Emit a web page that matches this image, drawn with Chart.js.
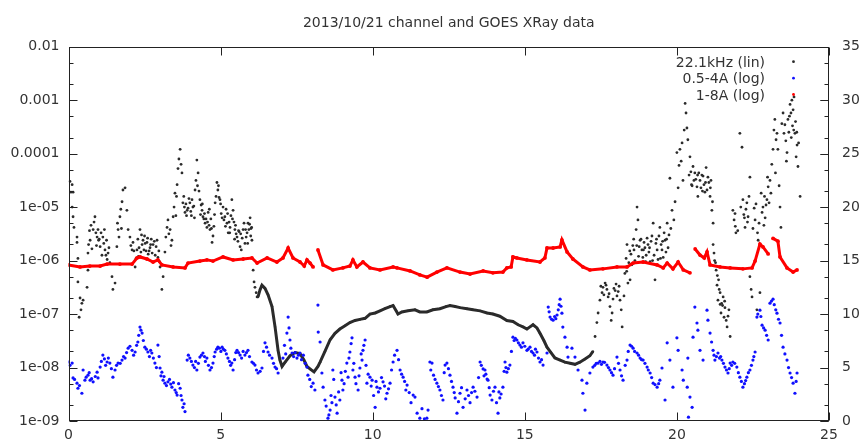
<!DOCTYPE html>
<html><head><meta charset="utf-8">
<script src="https://cdn.jsdelivr.net/npm/chart.js@4/dist/chart.umd.min.js"></script>
<style>html,body{margin:0;padding:0;background:#fff;overflow:hidden}canvas{display:block}</style>
</head><body>
<canvas id="c" width="862" height="444"></canvas>
<script>
const titleText = '2013/10/21 channel and GOES XRay data';
const seriesLabels = ['22.1kHz (lin)', '0.5-4A (log)', '1-8A (log)'];
const xTickValues = [0, 5, 10, 15, 20, 25];
const leftTickValues = [1e-9, 1e-8, 1e-7, 1e-6, 1e-5, 1e-4, 1e-3, 1e-2];
const leftTickLabels = ['1e-09', '1e-08', '1e-07', '1e-06', '1e-05', '0.0001', '0.001', '0.01'];
const leftMinorTickValues = [2e-9, 5e-9, 2e-8, 5e-8, 2e-7, 5e-7, 2e-6, 5e-6, 2e-5, 5e-5, 2e-4, 5e-4, 2e-3, 5e-3];
const rightTickValues = [0, 5, 10, 15, 20, 25, 30, 35];

// 22.1 kHz channel (right axis, linear) - scattered readings
const khzHours = [0.05,0.08,0.12,0.12,0.15,0.15,0.18,0.28,0.28,0.31,0.31,0.35,0.38,0.41,0.44,0.48,0.61,0.64,0.64,0.71,0.81,0.87,0.90,0.94,0.97,0.99,1.04,1.07,1.10,1.13,1.20,1.23,1.27,1.30,1.33,1.36,1.43,1.46,1.53,1.59,1.63,1.69,1.76,1.79,1.86,1.92,1.96,2.02,2.09,2.12,2.19,2.25,2.28,2.32,2.35,2.38,2.42,2.45,2.50,2.55,2.58,2.62,2.68,2.72,2.78,2.85,2.88,2.91,2.94,3.01,3.07,3.11,3.17,3.24,3.27,3.30,3.34,3.37,3.40,3.44,3.50,3.57,3.60,3.63,3.67,3.70,3.73,3.76,3.79,3.83,3.86,3.90,3.93,3.99,4.02,4.06,4.09,4.12,4.16,4.19,4.22,4.26,4.29,4.32,4.36,4.39,4.42,4.45,4.49,4.52,4.55,4.59,4.62,4.65,4.68,4.72,4.75,4.82,4.85,4.88,4.91,4.95,4.98,5.02,5.08,5.11,5.14,5.18,5.21,5.25,5.28,5.31,5.34,5.37,5.41,5.44,5.47,5.51,5.54,5.57,5.61,5.64,5.68,5.71,5.74,5.80,5.84,5.87,5.90,5.93,5.97,6.00,6.03,6.07,6.10,6.13,6.17,6.20,
0.66,0.69,0.74,0.77,0.84,0.92,1.01,1.16,1.18,1.25,1.61,1.66,1.72,1.74,2.05,2.15,2.22,2.30,2.40,2.48,2.52,2.60,2.65,2.70,2.75,2.82,2.97,2.99,3.20,3.47,3.53,3.55,3.81,3.88,3.96,4.04,4.14,4.24,4.34,4.40,4.47,4.57,4.63,4.70,4.78,4.80,4.93,5.00,5.05,5.16,5.23,5.30,5.39,5.46,5.49,5.59,5.66,5.77,5.82,5.89,5.95,5.99,6.02,
17.31,17.37,17.41,17.47,17.54,17.57,17.64,17.70,17.74,17.80,17.84,17.87,17.93,18.00,18.07,18.13,18.17,18.20,18.26,18.29,18.33,18.36,18.39,18.46,18.52,18.59,18.66,18.69,18.72,18.79,18.85,18.92,18.99,19.05,19.12,19.18,19.22,19.28,19.35,19.44,19.48,19.55,19.61,19.68,19.74,19.77,19.84,19.90,20.00,20.07,20.10,20.17,20.27,20.30,20.33,20.36,20.43,20.46,20.53,20.56,20.59,20.66,20.69,20.76,20.82,20.89,20.96,20.99,21.05,21.09,21.12,21.15,21.19,21.19,21.22,21.29,21.32,21.35,21.39,21.42,21.45,21.52,21.55,21.62,21.65,21.71,21.75,21.84,21.88,21.94,22.07,22.14,22.17,22.20,22.24,22.30,22.34,22.40,22.40,22.44,22.47,22.54,22.57,22.63,22.67,22.73,22.80,22.86,22.93,22.96,23.00,23.06,23.09,23.16,23.19,23.22,23.26,23.29,23.32,23.39,23.42,23.49,23.52,23.55,23.62,23.65,23.72,23.75,23.78,23.82,23.85,23.88,23.92,23.95,23.98,24.05,
17.50,17.60,17.67,17.77,17.90,17.97,18.03,18.10,18.42,18.49,18.55,18.62,18.76,18.82,18.88,18.95,19.02,19.08,19.15,19.25,19.31,19.38,19.41,19.51,19.58,19.64,19.71,20.40,20.50,20.62,20.72,20.79,20.86,20.92,21.02,21.27,21.37,21.47,21.58,21.68,21.91,22.10,22.27,22.37,22.60,22.70,22.77,22.83,22.90,23.03,23.45,23.58,23.68,23.70,23.80,23.90,24.00,
18.35,18.45,18.58,18.68,18.74,18.90,18.97,19.10,19.20,19.33,19.46,19.53,19.66,19.80,19.94,20.04,20.14,20.20,20.24,20.48,20.68,20.84,20.94,21.10,21.17,21.24,21.33,21.42,21.50,21.57,21.92,22.00,22.22,22.32,22.50,22.65,22.88,22.98,23.12,23.24,23.36,23.60,23.76,23.84,23.94];
const khzValues = [22.4,21.4,22.1,20.0,21.4,19.1,18.1,17.2,16.7,15.2,13.0,9.7,11.5,10.4,11.0,11.3,12.5,14.1,15.7,16.9,17.9,19.1,17.6,17.2,17.9,16.9,16.3,17.6,15.5,17.2,16.0,15.5,15.1,15.7,16.2,14.8,13.5,12.3,12.9,16.3,17.9,19.1,20.5,21.6,21.8,19.7,17.9,17.2,16.0,16.7,14.4,16.0,17.0,16.2,17.9,15.8,16.5,16.9,17.3,15.9,16.7,15.6,16.2,17.0,16.5,15.5,16.3,16.9,15.3,14.4,12.3,13.5,15.8,18.1,18.8,17.5,17.9,16.4,16.9,19.1,21.3,22.1,23.6,24.5,25.4,24.0,23.2,20.4,21.0,19.5,20.3,19.7,19.9,20.4,19.6,20.7,20.0,20.1,21.6,22.5,24.4,23.2,21.5,20.7,20.2,19.7,19.1,18.9,18.5,18.9,18.1,19.5,18.3,17.9,18.9,16.7,17.3,20.4,21.0,22.3,21.6,20.9,20.7,19.4,20.0,18.8,19.1,19.8,18.5,17.6,18.6,18.1,19.2,20.7,19.7,18.6,17.9,17.5,17.2,16.8,17.7,16.3,16.0,17.1,17.9,16.6,17.2,17.6,18.5,17.9,19.0,18.0,16.9,14.1,13.0,12.5,12.0,11.6,
16.5,17.8,18.3,16.1,18.6,16.4,17.0,16.6,17.9,16.9,18.5,17.2,19.8,18.0,16.4,15.9,15.2,15.4,17.4,16.0,16.6,17.1,15.9,16.5,15.7,16.8,15.9,14.9,17.2,20.0,19.2,21.0,20.0,19.2,20.8,19.2,19.0,22.0,19.3,20.3,19.4,18.6,19.8,18.0,18.2,19.3,22.0,20.3,19.0,18.2,19.4,17.6,18.9,17.0,18.3,17.8,17.5,18.5,17.9,16.6,18.4,17.3,18.1,
7.9,9.2,10.1,11.3,12.0,12.5,12.9,12.3,11.6,10.7,9.4,10.1,12.4,12.8,12.1,11.3,10.4,8.8,11.7,13.8,15.2,16.5,12.9,13.2,14.6,16.0,17.9,20.0,18.8,16.9,16.0,16.7,15.5,16.5,14.9,17.3,18.5,13.2,16.0,18.1,16.5,15.3,16.9,18.5,17.4,22.7,19.7,18.8,25.1,23.9,25.4,26.0,29.7,28.8,27.4,26.3,24.7,23.3,23.8,22.5,23.2,21.9,21.0,22.5,23.0,22.1,23.7,21.6,22.3,21.0,22.5,19.7,18.5,16.5,15.7,14.1,12.7,11.3,12.3,10.9,10.1,11.6,9.7,9.4,8.8,10.4,7.9,19.7,18.8,17.6,26.9,25.6,20.7,19.3,18.1,20.4,19.1,22.8,13.5,12.3,11.6,19.9,18.8,10.4,16.9,12.0,19.5,18.3,20.2,20.7,21.9,22.5,21.3,25.4,27.2,28.2,26.3,26.9,25.4,20.0,18.1,28.8,26.9,27.7,25.1,28.2,29.6,28.8,30.0,29.1,30.3,26.9,24.7,25.8,23.8,21.0,
12.6,11.8,12.7,11.9,11.4,12.2,11.7,12.6,14.8,15.6,16.4,15.0,16.3,17.0,15.3,16.2,17.1,15.8,16.8,15.5,16.6,15.1,17.3,16.0,17.6,15.8,16.2,23.0,22.0,22.6,23.2,21.8,22.9,21.4,22.8,14.8,13.2,11.0,10.6,9.8,19.4,20.0,19.8,21.0,20.3,18.5,21.3,20.0,19.0,20.4,27.8,26.2,27.0,28.5,27.6,28.0,26.0,
14.0,15.9,17.0,16.4,15.4,16.0,14.9,16.2,15.0,17.0,15.2,16.8,17.0,18.0,20.5,21.8,24.3,22.5,27.2,22.1,23.0,21.5,22.3,21.8,20.5,15.0,13.6,12.0,10.8,11.2,18.2,17.8,19.0,18.6,18.0,17.6,21.0,22.8,24.0,23.2,22.0,24.3,26.5,27.2,27.0];

// 22.1 kHz channel - smooth night-time section
const khzCurveHours = [6.23,6.30,6.36,6.46,6.56,6.69,6.79,6.89,6.95,7.02,7.12,7.28,7.45,7.61,7.74,7.84,7.97,8.07,8.20,8.27,8.43,8.60,8.76,8.92,9.09,9.25,9.42,9.58,9.75,9.91,10.08,10.24,10.40,10.57,10.67,10.77,10.83,10.96,11.16,11.39,11.55,11.78,11.98,12.21,12.41,12.54,12.71,12.87,13.10,13.30,13.53,13.76,13.95,14.18,14.41,14.61,14.78,14.94,15.07,15.17,15.27,15.40,15.50,15.63,15.73,15.86,15.99,16.16,16.32,16.49,16.65,16.81,16.98,17.14,17.24];
const khzCurveValues = [11.6,12.3,12.7,12.4,11.8,10.7,8.8,6.6,5.7,5.1,5.5,6.1,6.4,6.3,5.7,5.1,4.8,4.6,5.1,5.5,6.5,7.6,8.2,8.6,8.9,9.2,9.4,9.5,9.6,10.0,10.1,10.3,10.5,10.7,10.8,10.3,10.0,10.2,10.3,10.4,10.2,10.2,10.4,10.5,10.7,10.8,10.7,10.6,10.5,10.4,10.3,10.1,10.0,9.8,9.4,9.3,9.0,8.8,8.6,8.8,9.0,8.7,8.2,7.5,6.9,6.4,5.9,5.7,5.5,5.4,5.3,5.5,5.8,6.1,6.5];

// GOES 0.5-4 A flux (left axis, log)
const hardHours = [0.00,0.12,0.15,0.28,0.31,0.44,0.48,0.54,0.64,0.71,0.81,0.94,0.97,1.04,1.13,1.27,1.36,1.46,1.53,1.63,1.76,1.86,1.96,2.09,2.19,2.28,2.35,2.42,2.51,2.61,2.74,2.84,2.94,3.01,3.07,3.11,3.17,3.27,3.40,3.50,3.57,3.67,3.73,3.76,3.83,3.90,3.99,4.09,4.22,4.32,4.42,4.55,4.65,4.75,4.82,4.91,5.05,5.14,5.24,5.37,5.41,5.54,5.64,5.80,5.90,6.03,6.13,6.23,6.36,6.46,6.56,6.69,6.79,6.89,7.05,7.18,7.22,7.28,7.35,7.51,7.61,7.84,7.87,8.04,8.10,8.20,8.21,8.27,8.33,8.37,8.43,8.53,8.60,8.66,8.69,8.76,8.83,8.92,8.99,9.02,9.15,9.19,9.25,9.32,9.35,9.42,9.52,9.58,9.65,9.68,9.75,9.81,9.91,9.98,10.08,10.14,10.24,10.34,10.47,10.57,10.67,10.80,10.90,11.00,11.13,11.33,11.39,11.46,11.55,11.62,11.78,11.88,11.95,12.00,12.11,12.21,12.31,12.38,12.44,12.54,12.64,12.71,12.77,12.87,12.97,13.10,13.20,13.30,13.43,13.53,13.63,13.69,13.76,13.79,13.86,13.92,14.02,14.12,14.18,14.28,14.35,14.41,14.51,14.61,14.74,14.84,14.94,15.07,15.17,15.27,15.40,15.50,15.60,15.73,15.77,15.83,15.93,16.06,16.16,16.22,16.25,16.32,16.39,16.42,16.55,16.65,16.75,16.88,16.91,16.98,17.04,17.14,17.24,17.41,17.57,17.70,17.80,17.90,18.03,18.13,18.23,18.36,18.46,18.56,18.69,18.79,18.89,19.02,19.12,19.22,19.35,19.44,19.51,19.61,19.68,19.77,19.87,20.00,20.04,20.17,20.21,20.34,20.36,20.38,20.43,20.50,20.53,20.59,20.66,20.69,20.76,20.86,20.99,21.02,21.09,21.19,21.25,21.35,21.48,21.58,21.68,21.75,21.84,21.97,22.07,22.17,22.30,22.40,22.50,22.57,22.63,22.73,22.80,22.90,23.00,23.06,23.16,23.29,23.39,23.49,23.62,23.72,23.82,23.88,23.95,
0.05,0.20,0.36,0.58,0.68,0.76,0.88,1.08,1.18,1.22,1.31,1.41,1.58,1.70,1.81,1.91,2.02,2.14,2.24,2.31,2.38,2.46,2.56,2.66,2.70,2.79,2.89,2.98,3.04,3.14,3.22,3.32,3.36,3.45,3.54,3.62,3.70,3.80,
3.94,4.04,4.14,4.18,4.27,4.37,4.47,4.50,4.60,4.70,4.79,4.87,4.96,5.01,5.09,5.19,5.29,5.33,5.46,5.50,5.59,5.69,5.74,5.85,5.95,6.08,6.18,6.30,6.41,6.51,6.61,6.74,6.84,
7.10,7.14,7.25,7.31,7.40,7.45,7.56,7.66,7.72,7.78,7.93,7.98,
8.47,8.56,8.63,8.72,8.80,8.88,8.96,9.06,9.10,9.22,9.29,9.38,9.45,9.55,9.62,9.71,9.78,9.85,9.95,10.03,10.11,10.19,10.29,10.39,10.43,10.52,10.62,10.72,10.85,10.95,11.05,11.09,11.20,11.26,11.70,11.82,11.91,12.05,12.16,12.26,12.35,12.49,12.59,12.68,12.82,12.92,13.04,13.15,13.25,13.36,13.48,13.57,13.66,13.72,13.83,13.97,14.07,14.15,14.22,14.32,14.38,14.46,14.56,
14.65,14.69,14.79,14.89,15.00,15.11,15.22,15.32,15.35,15.45,15.55,15.80,15.88,15.98,16.02,16.10,16.13,16.19,
17.30,17.35,17.47,17.52,17.62,17.75,17.85,17.95,18.08,18.18,18.30,18.40,18.51,18.61,18.74,18.84,18.95,19.06,19.17,19.28,19.40,
21.14,21.22,21.30,21.40,21.44,21.53,21.63,21.72,21.80,21.90,22.02,22.12,22.22,22.26,22.35,22.45,22.53,
22.66,22.76,22.85,22.95,23.11,23.20,23.25,23.34,23.44,23.55,23.67,23.77,23.92];
const hardFlux = [1.27e-8,1.21e-8,6.4e-9,5.1e-9,4.1e-9,3.3e-9,9.0e-9,5.8e-9,7.2e-9,5.8e-9,5.4e-9,8.2e-9,6.4e-9,1.02e-8,1.71e-8,1.27e-8,1.21e-8,6.6e-9,9.0e-9,1.21e-8,1.38e-8,1.5e-8,2.3e-8,2.1e-8,1.95e-8,3.0e-8,5.7e-8,4.4e-8,2.4e-8,1.95e-8,1.87e-8,1.21e-8,2.63e-8,9.8e-9,8.2e-9,5.8e-9,5.1e-9,5.4e-9,4.3e-9,3.8e-9,3.06e-9,4.1e-9,2.47e-9,1.8e-9,1.5e-9,1.38e-8,1.5e-8,1.11e-8,9.0e-9,1.57e-8,1.87e-8,1.5e-8,9.0e-9,1.21e-8,1.95e-8,2.4e-8,2.4e-8,2.1e-8,1.5e-8,1.21e-8,9.0e-9,2.1e-8,1.71e-8,1.71e-8,2.1e-8,1.27e-8,1.11e-8,7.9e-9,9.8e-9,2.9e-8,1.95e-8,1.5e-8,1.02e-8,7.9e-9,1.5e-8,4.4e-8,8.8e-8,3.27e-8,1.87e-8,1.5e-8,1.87e-8,1.02e-8,7.2e-9,5.1e-9,3.8e-9,1.47e-7,4.6e-8,3.0e-8,7.9e-9,4.3e-9,2.47e-9,1.13e-9,1.6e-9,2.2e-9,9.0e-9,2.8e-9,1.4e-9,2.47e-9,5.8e-9,3.8e-9,1.21e-8,6.6e-9,1.95e-8,3.6e-8,9.0e-9,6.6e-9,3.8e-9,9.8e-9,1.38e-8,2.1e-8,3.27e-8,5.1e-9,6.6e-9,5.8e-9,1.8e-9,4.3e-9,4.1e-9,5.4e-9,3.3e-9,5.1e-9,1.27e-8,2.1e-8,9.0e-9,6.6e-9,4.7e-9,3.06e-9,2.8e-9,1.4e-9,1.13e-9,1.7e-9,1.13e-9,1.27e-8,1.21e-8,7.2e-9,5.1e-9,3.8e-9,2.47e-9,1.11e-8,1.21e-8,7.2e-9,4.3e-9,2.7e-9,1.4e-9,3.3e-9,1.8e-9,3.8e-9,2.2e-9,4.3e-9,2.8e-9,1.27e-8,9.4e-9,9.0e-9,6.1e-9,5.8e-9,3.06e-9,2.47e-9,4.3e-9,1.4e-9,2.7e-9,4.3e-9,1.27e-8,8.2e-9,1.11e-8,3.7e-8,3.27e-8,2.63e-8,2.9e-8,2.1e-8,2.4e-8,1.87e-8,1.95e-8,1.27e-8,1.11e-8,1.87e-8,1.35e-7,8.8e-8,7.7e-8,9.6e-8,1.9e-7,1.04e-7,5.7e-8,3.7e-8,2.4e-8,1.57e-8,2.3e-8,1.57e-8,9.0e-9,5.8e-9,3.3e-9,1.6e-9,5.1e-9,7.9e-9,1.02e-8,1.21e-8,1.27e-8,1.11e-8,9.0e-9,7.2e-9,1.57e-8,9.0e-9,5.8e-9,1.38e-8,2.63e-8,2.3e-8,1.87e-8,1.5e-8,1.38e-8,1.02e-8,7.9e-9,5.1e-9,4.3e-9,5.8e-9,9.8e-9,2.47e-9,2.9e-8,1.38e-8,4.3e-9,3.6e-8,2.1e-8,9.0e-9,5.8e-9,4.3e-9,1.5e-8,1.18e-9,2.8e-9,1.8e-9,3.7e-8,1.35e-7,6.8e-8,5.0e-8,2.1e-8,1.38e-8,1.18e-7,7.7e-8,4.4e-8,2.1e-8,1.38e-8,1.87e-8,1.38e-8,1.02e-8,7.9e-9,1.21e-8,1.27e-8,1.02e-8,6.6e-9,4.3e-9,6.6e-9,9.0e-9,1.38e-8,1.95e-8,8.8e-8,1.18e-7,6.2e-8,5.0e-8,3.27e-8,1.6e-7,1.9e-7,1.04e-7,6.8e-8,2.4e-8,1.38e-8,7.9e-9,5.1e-9,3.3e-9,7.9e-9,
1.1e-8,6.0e-9,4.6e-9,6.6e-9,8.0e-9,6.2e-9,6.8e-9,1.3e-8,1.45e-8,1.1e-8,1.5e-8,9.5e-9,1.1e-8,1.2e-8,1.6e-8,1.9e-8,2.5e-8,1.7e-8,2.6e-8,4.0e-8,5.0e-8,3.2e-8,2.2e-8,1.6e-8,2.1e-8,1.5e-8,1.0e-8,1.6e-8,7.0e-9,6.8e-9,4.6e-9,6.0e-9,4.9e-9,5.2e-9,3.4e-9,5.0e-9,3.0e-9,2.1e-9,
1.7e-8,1.3e-8,1.0e-8,1.3e-8,1.2e-8,1.7e-8,1.6e-8,1.3e-8,1.1e-8,1.0e-8,1.6e-8,2.2e-8,2.3e-8,2.0e-8,2.2e-8,1.8e-8,1.3e-8,1.1e-8,1.4e-8,1.9e-8,1.9e-8,1.5e-8,2.0e-8,1.9e-8,1.6e-8,1.2e-8,9.0e-9,8.5e-9,2.0e-8,2.4e-8,1.7e-8,1.2e-8,9.5e-9,
2.6e-8,1.8e-8,5.5e-8,2.3e-8,1.6e-8,1.9e-8,1.7e-8,1.4e-8,1.7e-8,1.2e-8,6.0e-9,4.4e-9,
1.9e-9,1.3e-9,3.0e-9,6.0e-9,2.0e-9,3.5e-9,8.0e-9,5.0e-9,8.5e-9,1.5e-8,2.8e-8,1.2e-8,5.0e-9,7.0e-9,1.8e-8,2.6e-8,1.1e-8,7.5e-9,4.5e-9,3.0e-9,5.5e-9,3.5e-9,6.5e-9,4.5e-9,2.6e-9,4.0e-9,9.0e-9,1.7e-8,1.4e-8,7.5e-9,5.5e-9,3.8e-9,3.4e-9,2.2e-9,1.1e-9,1.6e-9,9.0e-9,6.0e-9,4.4e-9,3.0e-9,8.0e-9,9.5e-9,5.5e-9,3.4e-9,2.3e-9,4.2e-9,2.6e-9,3.0e-9,3.4e-9,3.6e-9,6.5e-9,1.1e-8,7.0e-9,7.5e-9,4.2e-9,3.6e-9,2.2e-9,3.5e-9,3.2e-9,8.5e-9,1.0e-8,9.5e-9,2.0e-8,
3.2e-8,3.5e-8,2.9e-8,2.4e-8,2.5e-8,2.2e-8,2.0e-8,1.7e-8,2.2e-8,1.5e-8,1.4e-8,1.1e-7,8.0e-8,9.0e-8,8.2e-8,1.2e-7,1.5e-7,1.4e-7,
1.1e-8,1.2e-8,1.3e-8,1.15e-8,1.25e-8,1.0e-8,8.0e-9,9.5e-9,1.2e-8,7.0e-9,1.1e-8,2.0e-8,2.5e-8,2.0e-8,1.7e-8,1.4e-8,1.2e-8,9.0e-9,6.5e-9,4.8e-9,5.0e-9,
3.0e-8,1.7e-8,1.6e-8,1.5e-8,1.6e-8,1.2e-8,9.0e-9,9.5e-9,1.1e-8,1.2e-8,8.0e-9,5.5e-9,5.0e-9,5.7e-9,8.0e-9,1.1e-8,1.6e-8,
1.0e-7,9.0e-8,5.5e-8,4.0e-8,1.75e-7,1.5e-7,1.2e-7,8.0e-8,4.0e-8,1.8e-8,1.0e-8,6.5e-9,5.5e-9];

// GOES 1-8 A flux (left axis, log); null = data gap
const softHours = [0.00,0.38,0.70,1.04,1.27,1.69,2.09,2.25,2.35,2.58,2.78,2.94,3.07,3.44,3.83,3.93,4.32,4.55,4.75,5.08,5.41,5.74,6.03,6.20,6.53,6.85,7.05,7.22,7.38,7.61,7.75,7.84,7.94,8.04,8.12,8.20,8.37,8.69,9.02,9.25,9.35,9.48,9.68,9.91,10.24,10.67,10.80,11.23,11.55,11.79,12.11,12.44,12.87,13.20,13.63,13.95,14.28,14.41,14.55,14.61,14.74,15.07,15.50,15.66,15.73,15.93,16.16,16.22,16.39,16.58,16.91,17.14,17.57,18.03,18.36,18.56,18.89,19.35,19.55,19.68,19.87,20.04,20.21,20.43,20.52,20.60,20.76,20.90,20.99,21.09,21.42,21.75,22.17,22.47,22.57,22.73,22.83,23.00,23.08,23.16,23.32,23.39,23.62,23.82,23.95];
const softFlux = [8.3e-7,7.6e-7,7.9e-7,7.9e-7,8.6e-7,8.6e-7,8.6e-7,1.12e-6,1.17e-6,1.07e-6,9.4e-7,1.03e-6,8.3e-7,7.6e-7,7.3e-7,9.0e-7,9.8e-7,1.03e-6,9.8e-7,1.17e-6,1.03e-6,1.07e-6,1.12e-6,9.0e-7,1.12e-6,9.4e-7,1.12e-6,1.72e-6,1.12e-6,9.4e-7,7.9e-7,1.03e-6,9.0e-7,7.6e-7,null,1.58e-6,8.3e-7,6.7e-7,7.3e-7,7.9e-7,1.03e-6,7.6e-7,9.4e-7,7.3e-7,6.7e-7,7.6e-7,7.3e-7,6.4e-7,5.4e-7,4.9e-7,6.1e-7,7.3e-7,6.1e-7,5.6e-7,6.4e-7,5.9e-7,6.1e-7,7.3e-7,7.6e-7,1.17e-6,1.12e-6,1.03e-6,9.4e-7,1.12e-6,1.72e-6,1.72e-6,1.80e-6,2.43e-6,1.45e-6,1.07e-6,7.6e-7,6.7e-7,7.0e-7,7.6e-7,7.6e-7,9.0e-7,9.4e-7,8.3e-7,7.3e-7,9.0e-7,7.0e-7,9.4e-7,6.7e-7,5.9e-7,null,1.65e-6,1.27e-6,1.12e-6,1.45e-6,8.3e-7,7.6e-7,7.3e-7,7.0e-7,7.3e-7,9.8e-7,2.04e-6,1.80e-6,1.33e-6,null,2.6e-6,2.3e-6,1.17e-6,7.3e-7,6.1e-7,6.7e-7];

const pts = (xs, ys) => xs.map((x, i) => ({x: x, y: ys[i]}));
const FONT = '"DejaVu Sans", sans-serif';
const TXT = '#333';
const markerColors = ['#2b2b2b', '#1010ff', '#ff0000'];

const framePlugin = {
  id: 'frame',
  afterDatasetsDraw(chart) {
    const {ctx, chartArea: a, scales} = chart;
    ctx.save();
    ctx.strokeStyle = '#222';
    ctx.lineWidth = 1;
    const L = Math.round(a.left) + 0.5, R = Math.round(a.right) - 0.5;
    const T = Math.round(a.top) + 0.5, B = Math.round(a.bottom) - 0.5;
    ctx.strokeRect(L, T, R - L, B - T);
    ctx.beginPath();
    xTickValues.forEach(v => {
      const px = Math.round(scales.x.getPixelForValue(v)) + 0.5;
      ctx.moveTo(px, B); ctx.lineTo(px, B - 8);
      ctx.moveTo(px, T); ctx.lineTo(px, T + 8);
    });
    const yTick = (v, len) => {
      const py = Math.round(scales.y.getPixelForValue(v)) + 0.5;
      ctx.moveTo(L, py); ctx.lineTo(L + len, py);
      ctx.moveTo(R, py); ctx.lineTo(R - len, py);
    };
    leftTickValues.forEach(v => yTick(v, 8));
    leftMinorTickValues.forEach(v => yTick(v, 4));
    rightTickValues.forEach(v => {
      const py = Math.round(scales.y2.getPixelForValue(v)) + 0.5;
      ctx.moveTo(R, py); ctx.lineTo(R - 8, py);
    });
    ctx.stroke();
    ctx.restore();
  },
  afterDraw(chart) {
    const {ctx, chartArea: a} = chart;
    ctx.save();
    ctx.font = '14px ' + FONT;
    ctx.fillStyle = TXT;
    ctx.textBaseline = 'alphabetic';
    ctx.textAlign = 'center';
    ctx.fillText(titleText, (a.left + a.right) / 2, 26.5);
    ctx.textAlign = 'right';
    const base = [66.7, 83.2, 99.5];
    seriesLabels.forEach((s, i) => {
      ctx.fillStyle = TXT;
      ctx.fillText(s, 765, base[i]);
      ctx.fillStyle = markerColors[i];
      ctx.beginPath();
      ctx.arc(793.5, base[i] - 5, 1.4, 0, Math.PI * 2);
      ctx.fill();
    });
    ctx.restore();
  }
};

new Chart(document.getElementById('c'), {
  type: 'scatter',
  data: {
    datasets: [
      {label: seriesLabels[2], data: pts(softHours, softFlux), yAxisID: 'y', order: 0,
       showLine: true, spanGaps: false, borderColor: '#ff0000', borderWidth: 3,
       backgroundColor: '#ff0000', pointRadius: 1.9, pointBorderWidth: 0},
      {label: seriesLabels[1], data: pts(hardHours, hardFlux), yAxisID: 'y', order: 1,
       showLine: false, backgroundColor: '#1010ff', pointRadius: 1.6, pointBorderWidth: 0},
      {label: seriesLabels[0], data: pts(khzHours, khzValues), yAxisID: 'y2', order: 2,
       showLine: false, backgroundColor: '#2b2b2b', pointRadius: 1.4, pointBorderWidth: 0},
      {label: seriesLabels[0], data: pts(khzCurveHours, khzCurveValues), yAxisID: 'y2', order: 3,
       showLine: true, borderColor: '#2b2b2b', borderWidth: 3, backgroundColor: '#2b2b2b',
       pointRadius: 1.2, pointBorderWidth: 0}
    ]
  },
  options: {
    responsive: false,
    animation: false,
    devicePixelRatio: 1,
    layout: {padding: {top: 46.7, left: 0, right: 0, bottom: 0}},
    plugins: {legend: {display: false}, title: {display: false}, tooltip: {enabled: false}},
    scales: {
      x: {
        type: 'linear', position: 'bottom', min: 0, max: 25,
        afterBuildTicks: s => { s.ticks = xTickValues.map(v => ({value: v})); },
        afterFit: s => { s.height = 23; },
        grid: {display: false, drawTicks: false}, border: {display: false},
        ticks: {font: {family: FONT, size: 14}, color: TXT, padding: 6, maxRotation: 0, autoSkip: false}
      },
      y: {
        type: 'logarithmic', position: 'left', min: 1e-9, max: 1e-2,
        afterBuildTicks: s => { s.ticks = leftTickValues.map(v => ({value: v})); },
        afterFit: s => { s.width = 68.5; },
        grid: {display: false, drawTicks: false}, border: {display: false},
        ticks: {font: {family: FONT, size: 14}, color: TXT, padding: 9, autoSkip: false,
                callback: (v, i) => leftTickLabels[i]}
      },
      y2: {
        type: 'linear', position: 'right', min: 0, max: 35,
        afterBuildTicks: s => { s.ticks = rightTickValues.map(v => ({value: v})); },
        afterFit: s => { s.width = 33; },
        grid: {display: false, drawTicks: false}, border: {display: false},
        ticks: {font: {family: FONT, size: 14}, color: TXT, padding: 13, autoSkip: false}
      }
    }
  },
  plugins: [framePlugin]
});
</script>
</body></html>
